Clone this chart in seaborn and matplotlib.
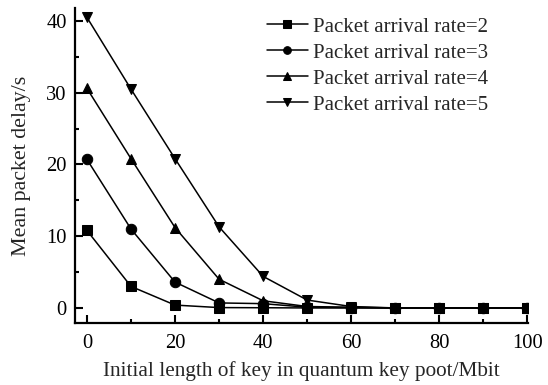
import numpy as np
import pandas as pd
import seaborn as sns
import matplotlib
matplotlib.use("Agg")
import matplotlib.pyplot as plt
from matplotlib.ticker import MultipleLocator

x_vals = [0, 10, 20, 30, 40, 50, 60, 70, 80, 90, 100]
rate2 = [10.8, 3.0, 0.4, 0.05, 0.03, 0.0, 0.0, 0.0, 0.0, 0.0, 0.0]
rate3 = [20.7, 11.0, 3.6, 0.7, 0.6, 0.1, 0.05, 0.0, 0.0, 0.0, 0.0]
rate4 = [30.6, 20.8, 11.2, 4.0, 1.0, 0.2, 0.1, 0.0, 0.0, 0.0, 0.0]
rate5 = [40.5, 30.5, 20.8, 11.3, 4.4, 1.1, 0.2, 0.0, 0.0, 0.0, 0.0]
labels = ["Packet arrival rate=2", "Packet arrival rate=3",
          "Packet arrival rate=4", "Packet arrival rate=5"]

rows = []
for lab, vals in zip(labels, [rate2, rate3, rate4, rate5]):
    for xv, yv in zip(x_vals, vals):
        rows.append({"x": xv, "y": yv, "series": lab})
df = pd.DataFrame(rows)

sns.set_theme(style="ticks")
plt.rcParams["font.family"] = ["Liberation Serif", "DejaVu Serif"]

fig = plt.figure(figsize=(5.48, 3.85), dpi=100)
ax = fig.add_axes([0.137, 0.161, 0.827, 0.818])

sns.lineplot(data=df, x="x", y="y", style="series", markers=["s", "o", "^", "v"],
             dashes=False, color="black", linewidth=1.1, markersize=7.5,
             markeredgecolor="black", ax=ax)

ax.set_xlim(-2.7, 100.2)
ax.set_ylim(-2.1, 41.8)
ax.xaxis.set_major_locator(MultipleLocator(20))
ax.xaxis.set_minor_locator(MultipleLocator(10))
ax.yaxis.set_major_locator(MultipleLocator(10))
ax.yaxis.set_minor_locator(MultipleLocator(5))
ax.tick_params(which="major", direction="in", length=6, width=1.5, labelsize=14.8, colors="black")
ax.tick_params(axis="x", which="major", pad=8)
ax.tick_params(axis="y", which="major", pad=6)
ax.tick_params(which="minor", direction="in", length=3, width=1.5, colors="black")
for side in ["top", "right"]:
    ax.spines[side].set_visible(False)
for side in ["left", "bottom"]:
    ax.spines[side].set_linewidth(1.6)
    ax.spines[side].set_color("black")

ax.set_xlabel("Initial length of key in quantum key poot/Mbit", fontsize=15.3, labelpad=6)
ax.set_ylabel("Mean packet delay/s", fontsize=15.8, labelpad=11)

leg = ax.legend(loc="upper left", bbox_to_anchor=(0.404, 0.998), frameon=False,
                fontsize=15, handlelength=2.0, handletextpad=0.25, labelspacing=0.31,
                borderaxespad=0.0)
for h in leg.legend_handles:
    h.set_markersize(5.5)

fig.savefig("out.png", dpi=100)
